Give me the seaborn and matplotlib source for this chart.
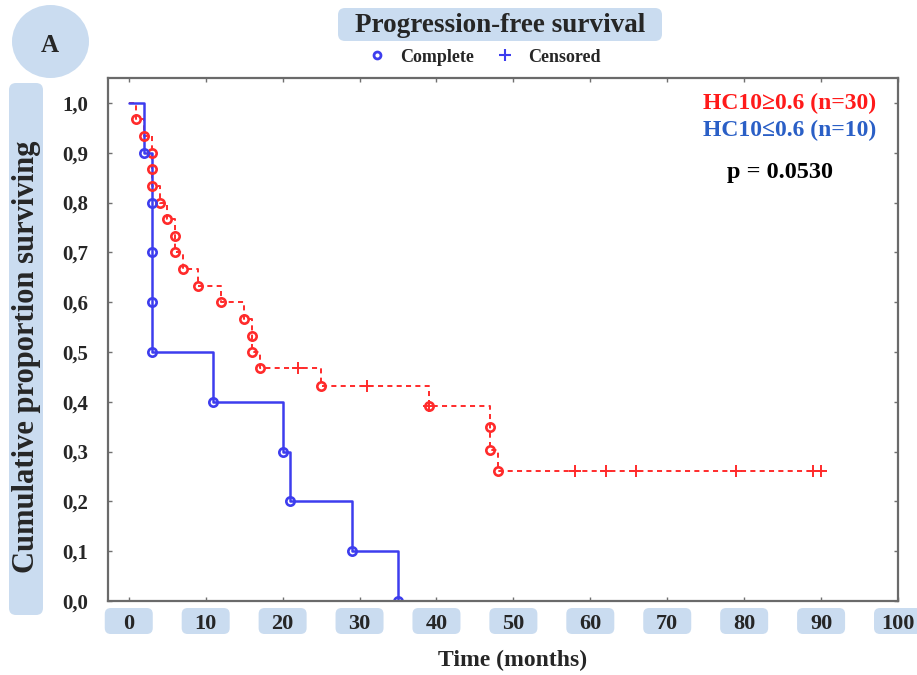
import matplotlib
matplotlib.use("Agg")
import matplotlib.pyplot as plt
import matplotlib.transforms as mtransforms
from matplotlib.patches import FancyBboxPatch, Ellipse
from matplotlib.lines import Line2D
import pandas as pd
import seaborn as sns

# HC10 >= 0.6 (n=30): event times (months) and survival after each event
red_time = [0, 1, 2, 3, 3, 3, 4, 5, 6, 6, 7, 9, 12, 15, 16, 16, 17, 25, 39, 47, 47, 48]
red_surv = [1.0, 0.967, 0.933, 0.900, 0.867, 0.833, 0.800, 0.767, 0.733, 0.700, 0.667,
            0.633, 0.600, 0.567, 0.533, 0.500, 0.467, 0.431, 0.392, 0.350, 0.303, 0.260]
red_cens_time = [22, 31, 39, 58, 62, 66, 79, 89, 90]
red_cens_surv = [0.467, 0.431, 0.392, 0.260, 0.260, 0.260, 0.260, 0.260, 0.260]

# HC10 <= 0.6 (n=10)
blue_time = [0, 2, 3, 3, 3, 3, 11, 20, 21, 29, 35]
blue_surv = [1.0, 0.9, 0.8, 0.7, 0.6, 0.5, 0.4, 0.3, 0.2, 0.1, 0.0]

x_ticks = [0, 10, 20, 30, 40, 50, 60, 70, 80, 90, 100]
y_ticks = [0.0, 0.1, 0.2, 0.3, 0.4, 0.5, 0.6, 0.7, 0.8, 0.9, 1.0]
y_tick_labels = ["0,0", "0,1", "0,2", "0,3", "0,4", "0,5", "0,6", "0,7", "0,8", "0,9", "1,0"]

RED = "#ff2b2b"
BLUE = "#3d3dee"
BOX = "#cadcf0"
FONT = "Liberation Serif"

sns.set_style("ticks")
plt.rcParams["font.family"] = [FONT, "DejaVu Serif"]
plt.rcParams["font.weight"] = "bold"
plt.rcParams["axes.labelweight"] = "bold"

fig = plt.figure(figsize=(9.17, 6.75), dpi=100)
ax = fig.add_axes([108 / 917, 1 - 601 / 675, 790 / 917, 523 / 675])

# step curves
red_line = pd.DataFrame({"time": red_time + [red_cens_time[-1]],
                         "surv": red_surv + [red_surv[-1]]})
blue_line = pd.DataFrame({"time": blue_time, "surv": blue_surv})
sns.lineplot(data=red_line, x="time", y="surv", drawstyle="steps-post", estimator=None,
             sort=False, color=RED, linewidth=1.4, linestyle=(0, (2.6, 2.2)), ax=ax)
sns.lineplot(data=blue_line, x="time", y="surv", drawstyle="steps-post", estimator=None,
             sort=False, color=BLUE, linewidth=1.8, ax=ax)

# complete (event) markers
ev_red = pd.DataFrame({"time": red_time[1:], "surv": red_surv[1:]})
ev_blue = pd.DataFrame({"time": blue_time[1:], "surv": blue_surv[1:]})
for df, col in [(ev_red, RED), (ev_blue, BLUE)]:
    sns.lineplot(data=df, x="time", y="surv", estimator=None, sort=False, linestyle="none",
                 marker="o", markersize=6, markerfacecolor="none", markeredgecolor=col,
                 markeredgewidth=1.9, color=col, ax=ax)

# censored markers
cens = pd.DataFrame({"time": red_cens_time, "surv": red_cens_surv})
sns.lineplot(data=cens, x="time", y="surv", estimator=None, sort=False, linestyle="none",
             marker="+", markersize=9, markeredgecolor=RED, markeredgewidth=1.4,
             color=RED, ax=ax)

ax.set_xlim(-2.7, 100)
ax.set_ylim(0, 1.05)
ax.set_xticks(x_ticks)
ax.set_xticklabels([str(v) for v in x_ticks])
ax.set_yticks(y_ticks)
ax.set_yticklabels(y_tick_labels)
ax.tick_params(direction="in", length=3, width=1, color="#707070", top=True, right=True)
ax.tick_params(axis="x", pad=9.5, labelsize=16)
ax.tick_params(axis="y", pad=14.4, labelsize=15)
for s in ax.spines.values():
    s.set_color("#6a6a6a")
    s.set_linewidth(1.6)

ax.set_xlabel("Time (months)", fontsize=17, fontweight="bold", va="center")
ax.xaxis.set_label_coords(0.5127, -0.1128)
ax.set_ylabel("")

# rounded boxes behind x tick labels
xtrans = ax.get_xaxis_transform()
for v in x_ticks:
    off = mtransforms.IdentityTransform() + mtransforms.ScaledTranslation(v, 0, xtrans)
    fig.add_artist(FancyBboxPatch((-24, -33), 48, 26, boxstyle="round,pad=0,rounding_size=6",
                                  fc=BOX, ec="none", transform=off, zorder=-1))

# title, panel letter and y label boxes
px = mtransforms.IdentityTransform()
fig.add_artist(FancyBboxPatch((338, 634), 324, 33, boxstyle="round,pad=0,rounding_size=7",
                              fc=BOX, ec="none", transform=px, zorder=-1))
fig.add_artist(FancyBboxPatch((9, 60), 34, 532, boxstyle="round,pad=0,rounding_size=7",
                              fc=BOX, ec="none", transform=px, zorder=-1))
fig.add_artist(Ellipse((50.5, 633.5), 77, 73, fc=BOX, ec="none", transform=px, zorder=-1))

fig.text(500 / 917, 1 - 25 / 675, "Progression-free survival", ha="center", va="center",
         fontsize=19.5)
fig.text(50 / 917, 1 - 45 / 675, "A", ha="center", va="center", fontsize=18)
fig.text(27 / 917, 1 - 357 / 675, "Cumulative proportion surviving", rotation=90,
         ha="center", va="center", fontsize=22)

# group labels and p value
ax.text(0.972, 0.952, "HC10≥0.6 (n=30)", transform=ax.transAxes, ha="right", va="center",
        color="#ff1a1a", fontsize=17)
ax.text(0.972, 0.899, "HC10≤0.6 (n=10)", transform=ax.transAxes, ha="right", va="center",
        color="#2a5fc6", fontsize=17)
ax.text(0.851, 0.820, "p = 0.0530", transform=ax.transAxes, ha="center", va="center",
        color="black", fontsize=17.5)

handles = [Line2D([], [], ls="none", marker="o", ms=5, mfc="none", mec=BLUE, mew=2),
           Line2D([], [], ls="none", marker="+", ms=8, mec=BLUE, mew=1.5)]
fig.legend(handles, ["Complete", "Censored"], loc="center",
           bbox_to_anchor=(484 / 917, 1 - 57 / 675), ncol=2, frameon=False,
           prop={"family": FONT, "weight": "bold", "size": 13},
           handlelength=1.0, handletextpad=0.8, columnspacing=1.2)

fig.savefig("out.png", dpi=100)
